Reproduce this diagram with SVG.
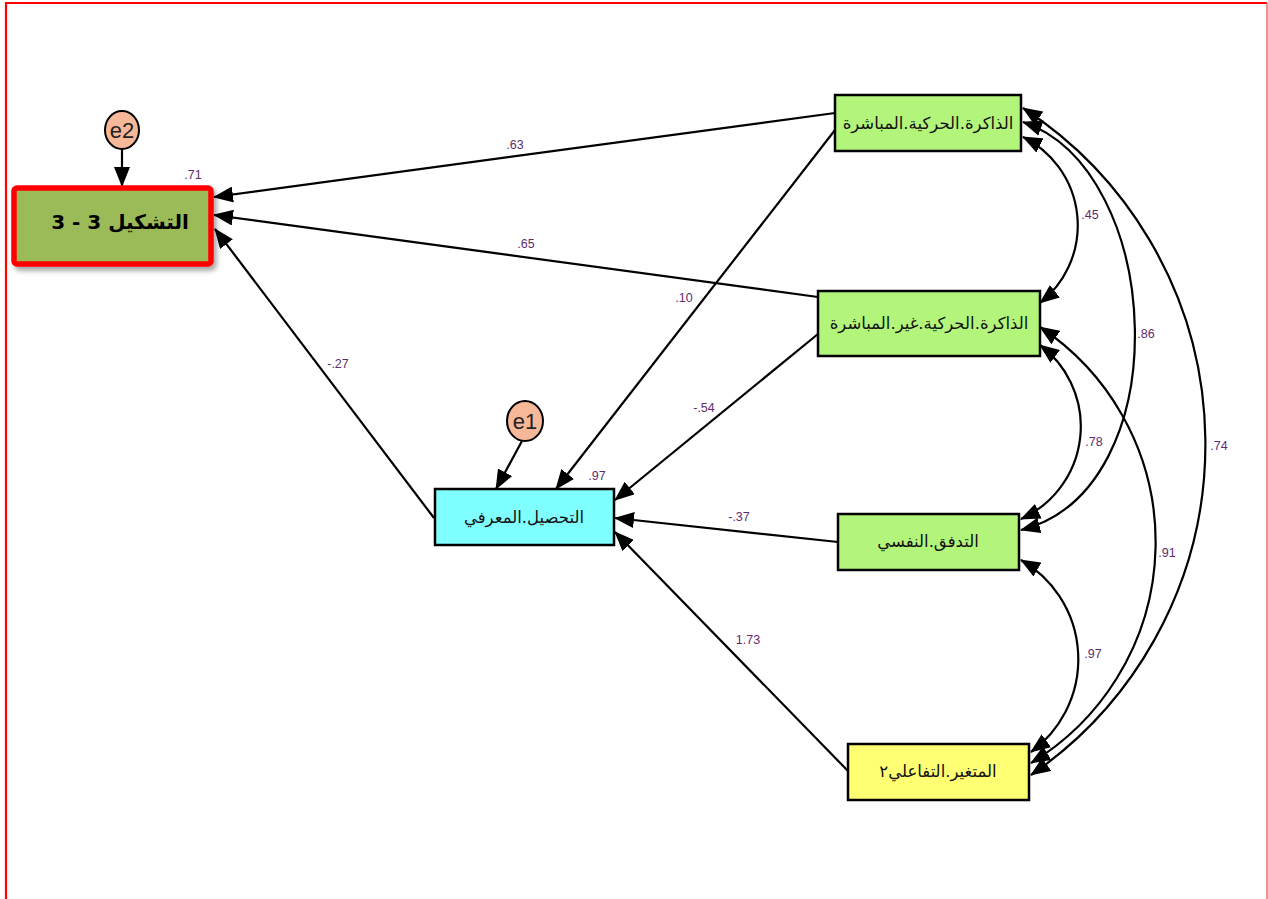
<svg xmlns="http://www.w3.org/2000/svg" width="1268" height="899" viewBox="0 0 1268 899">
<style>
.box{stroke:#000;stroke-width:2.5}
.green{fill:#B3F57B}
.lbl{font-family:"Liberation Sans",Arial,sans-serif;font-size:12.5px;fill:#5E2D6E;text-anchor:middle}
.ar{font-family:"DejaVu Sans","Noto Sans",sans-serif;font-size:16.5px;fill:#111;text-anchor:middle}
.err{fill:#F7B89A;stroke:#000;stroke-width:2}
.errt{font-family:"Liberation Sans",Arial,sans-serif;font-size:22px;fill:#222;text-anchor:middle}
.con{fill:none;stroke:#000;stroke-width:2.2}
</style>
<defs>
<marker id="ah" markerUnits="userSpaceOnUse" markerWidth="20" markerHeight="16" viewBox="0 0 20 16" refX="19" refY="8" orient="auto-start-reverse">
<path d="M0,0 L20,8 L0,16 Z" fill="#000"/>
</marker>
<filter id="sh" x="-10%" y="-10%" width="130%" height="140%">
<feDropShadow dx="3" dy="4" stdDeviation="2.5" flood-color="#000" flood-opacity="0.35"/>
</filter>
</defs>
<rect x="0" y="0" width="1268" height="899" fill="#fff"/>
<path d="M6,899 V3 H1267" fill="none" stroke="#FF0000" stroke-width="2.2"/>
<line x1="1267" y1="3" x2="1267" y2="899" stroke="#E87060" stroke-width="1.5"/>

<g id="connectors">
<line class="con" x1="835" y1="113" x2="214" y2="197" marker-end="url(#ah)"/>
<line class="con" x1="818" y1="297" x2="214" y2="215" marker-end="url(#ah)"/>
<line class="con" x1="434" y1="518" x2="215" y2="229" marker-end="url(#ah)"/>
<line class="con" x1="835" y1="130" x2="556" y2="489" marker-end="url(#ah)"/>
<line class="con" x1="818" y1="334" x2="615" y2="500" marker-end="url(#ah)"/>
<line class="con" x1="838" y1="542" x2="615" y2="518" marker-end="url(#ah)"/>
<line class="con" x1="848" y1="771" x2="615" y2="532" marker-end="url(#ah)"/>
<line class="con" x1="522" y1="441" x2="496" y2="489" marker-end="url(#ah)"/>
<line class="con" x1="122" y1="149" x2="122" y2="186" marker-end="url(#ah)"/>
<path class="con" d="M1023,137 A98.7,98.7 0 0 1 1040,303" marker-start="url(#ah)" marker-end="url(#ah)"/>
<path class="con" d="M1023,122 C1165,170 1180,490 1021,530" marker-start="url(#ah)" marker-end="url(#ah)"/>
<path class="con" d="M1023,108 A401,401 0 0 1 1031,775" marker-start="url(#ah)" marker-end="url(#ah)"/>
<path class="con" d="M1040,345 A101.6,101.6 0 0 1 1021,519" marker-start="url(#ah)" marker-end="url(#ah)"/>
<path class="con" d="M1040,327 A258,258 0 0 1 1031,763" marker-start="url(#ah)" marker-end="url(#ah)"/>
<path class="con" d="M1021,560 A114.6,114.6 0 0 1 1031,752" marker-start="url(#ah)" marker-end="url(#ah)"/>
</g>

<g id="labels">
<text class="lbl" x="193" y="179">.71</text>
<text class="lbl" x="515" y="149">.63</text>
<text class="lbl" x="526" y="248">.65</text>
<text class="lbl" x="684" y="302">.10</text>
<text class="lbl" x="338" y="368">-.27</text>
<text class="lbl" x="704" y="412">-.54</text>
<text class="lbl" x="597" y="480">.97</text>
<text class="lbl" x="739" y="521">-.37</text>
<text class="lbl" x="748" y="644">1.73</text>
<text class="lbl" x="1090" y="219">.45</text>
<text class="lbl" x="1146" y="338">.86</text>
<text class="lbl" x="1094" y="446">.78</text>
<text class="lbl" x="1219" y="450">.74</text>
<text class="lbl" x="1167" y="557">.91</text>
<text class="lbl" x="1093" y="658">.97</text>
</g>

<g id="e2">
<ellipse class="err" cx="122" cy="130" rx="17" ry="19"/>
<text class="errt" x="122" y="138">e2</text>
</g>
<g id="e1">
<ellipse class="err" cx="525" cy="421" rx="18" ry="20"/>
<text class="errt" x="525" y="429">e1</text>
</g>

<g id="target">
<rect x="14" y="188" width="197" height="76" rx="3" fill="#9BBB59" stroke="#FF0000" stroke-width="5.5" filter="url(#sh)"/>
<text x="120" y="229" direction="rtl" font-family="'DejaVu Sans','Noto Sans',sans-serif" font-size="20" font-weight="bold" fill="#000" text-anchor="middle">التشكيل 3 - 3</text>
</g>

<g id="direct_memory">
<rect class="box green" x="835" y="95" width="186" height="56"/>
<text class="ar" x="928" y="129" direction="rtl">الذاكرة.الحركية.المباشرة</text>
</g>
<g id="indirect_memory">
<rect class="box green" x="818" y="291" width="222" height="65"/>
<text class="ar" x="929" y="329" direction="rtl">الذاكرة.الحركية.غير.المباشرة</text>
</g>
<g id="flow">
<rect class="box green" x="838" y="514" width="181" height="56"/>
<text class="ar" x="928" y="547" direction="rtl">التدفق.النفسي</text>
</g>
<g id="interaction">
<rect class="box" x="848" y="744" width="181" height="56" fill="#FFFF73"/>
<text class="ar" x="938" y="777" direction="rtl">المتغير.التفاعلي٢</text>
</g>
<g id="cognitive">
<rect class="box" x="435" y="489" width="179" height="56" fill="#7FFFFF"/>
<text class="ar" x="524" y="523" direction="rtl">التحصيل.المعرفي</text>
</g>
</svg>
